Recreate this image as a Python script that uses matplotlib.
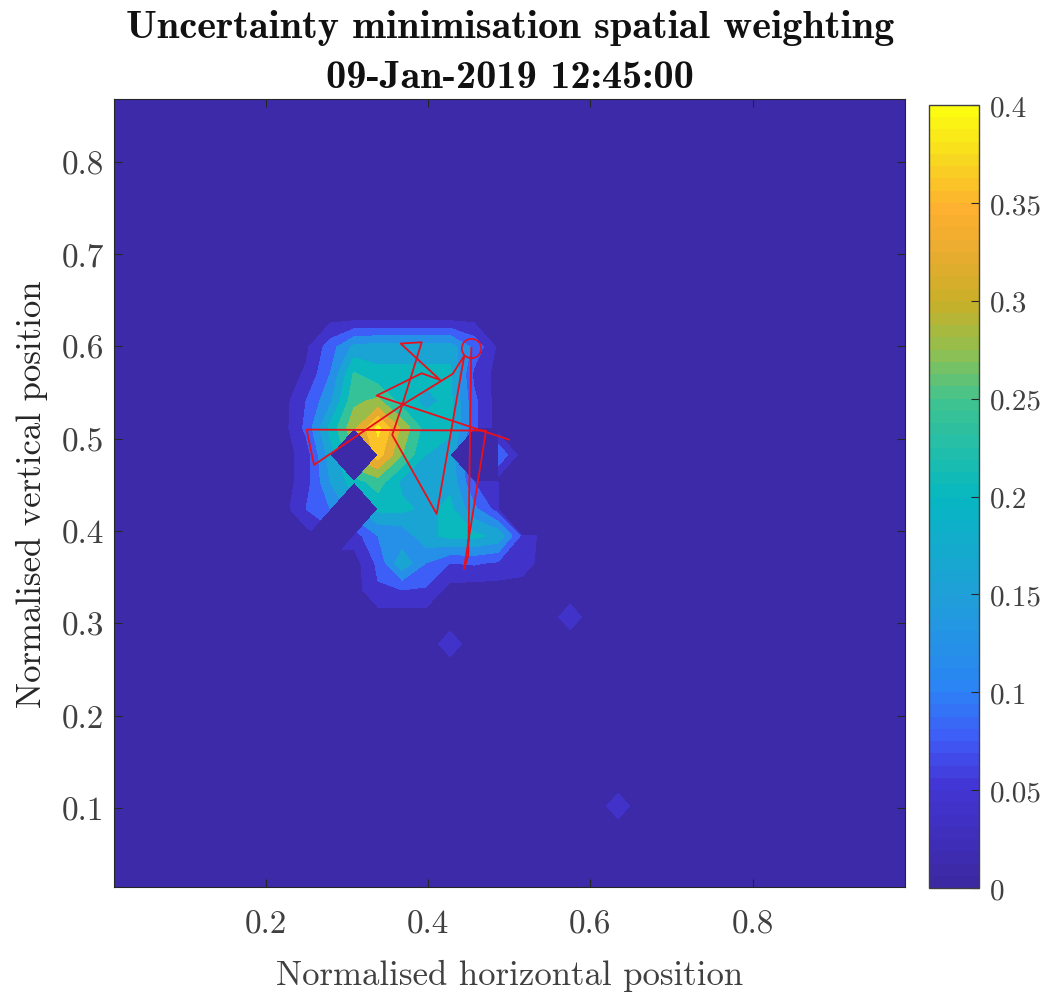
import numpy as np
import matplotlib
matplotlib.use("Agg")
import matplotlib.pyplot as plt
from matplotlib.colors import LinearSegmentedColormap, Normalize
from matplotlib.cm import ScalarMappable

# weights, columns are grid nodes 7..18, nan = no data
first_col = 7
rows = {
    21: [0, 0, .012, .016, .016, .016, .016, .016, .012, 0, 0, 0],
    20: [0, .012, .08, .15, .16, .16, .16, .16, .09, .012, 0, 0],
    19: [0, .025, .1, .225, .19, .19, .19, .19, .05, .005, 0, 0],
    18: [0, .06, .13, .25, .27, .2, .17, .19, .07, 0, 0, 0],
    17: [0, .07, .19, .29, .39, .29, .2, .19, .07, 0, 0, 0],
    16: [0, .037, .16, np.nan, .36, .26, .18, .16, np.nan, np.nan, 0, 0],
    15: [0, .04, .14, .2, .24, .17, .16, .17, .06, .03, np.nan, 0],
    14: [0, .06, .1, np.nan, .19, .19, .17, .19, .11, .04, np.nan, np.nan],
    13: [0, 0, np.nan, .04, .1, .11, .17, .19, .19, .17, .05, 0],
    12: [0, 0, 0, 0, .07, .17, .1, .06, .065, .055, .04, 0],
    11: [0, 0, 0, 0, .055, .06, .055, .005, 0, 0, 0, 0],
}
# small isolated spots (col, row, value)
spots = [(14, 9, .038), (19, 10, .038), (21, 3, .038)]
# the one next to the right hole, only its right half shows
side_z = [[0, 0], [.1, 0], [0, 0]]
side_cols = [16, 17]
side_rows = [15, 16, 17]

path_x = [.4532, .4495, .4441, .4713, .2502, .2592, .3681, .4302, .4445, .4105,
          .3557, .3681, .3920, .3661, .4146, .3920, .3365, .4996]
path_y = [.5984, .3734, .3589, .5088, .5099, .4716, .5366, .5702, .5900, .4185,
          .5041, .5366, .6045, .6031, .5637, .5709, .5467, .4990]

xticks = [.2, .4, .6, .8]
yticks = [.1, .2, .3, .4, .5, .6, .7, .8]
cticks = [0, .05, .1, .15, .2, .25, .3, .35, .4]
ctick_labels = ["0", "0.05", "0.1", "0.15", "0.2", "0.25", "0.3", "0.35", "0.4"]

levels = [0, .02, .06, .1, .14, .18, .22, .26, .3, .34, .38, .4]
cmap_at = [0, .05, .075, .1, .15, .2, .25, .275, .3, .325, .35, .375, .4]
cmap_col = ["#3b28a3", "#4335d5", "#3f5cf8", "#2b84f5", "#1fa0d8", "#05b8c0", "#40c490",
            "#90c050", "#c8b028", "#e8ac30", "#ffb030", "#f8d820", "#fcfc10"]
cmap = LinearSegmentedColormap.from_list("parula", [(v / .4, c) for v, c in zip(cmap_at, cmap_col)], N=64)
norm = Normalize(0, .4)

# grid
x = .0126 + .0296 * np.arange(34)
y = .0144 + .02925 * np.arange(30)
z = np.zeros((len(y), len(x)))
for j, vals in rows.items():
    z[j, first_col:first_col + len(vals)] = vals
for i, j, v in spots:
    z[j, i] = v
z = np.ma.masked_invalid(z)

W, H = 1047, 995
fig = plt.figure(figsize=(W / 100, H / 100), dpi=100)
ax = fig.add_axes([114 / W, 1 - 888 / H, 791 / W, 788 / H])
ax.set_facecolor(cmap(norm(.01)))
ax.contourf(x, y, z, levels=levels, cmap=cmap, norm=norm)
ax.contourf(x[side_cols], y[side_rows], side_z, levels=levels, cmap=cmap, norm=norm)
ax.plot(path_x, path_y, color="#e8101c", lw=1.3)
ax.plot(path_x[0], path_y[0], "o", mfc="none", mec="#e8101c", ms=14, mew=1.2)
ax.set_xlim(.0126, .988)
ax.set_ylim(.0144, .868)

font = {"family": "cmr10", "size": 24}
cb_font = {"family": "cmr10", "size": 21}
label_font = {"family": "cmr10", "size": 25}
ax.set_xticks(xticks)
ax.set_yticks(yticks)
ax.set_xticklabels([str(t) for t in xticks], **font, color="#404040")
ax.set_yticklabels([str(t) for t in yticks], **font, color="#404040")
ax.tick_params(direction="in", length=5.5, width=.8, top=True, right=True, color="#262626")
ax.tick_params(axis="x", pad=16)
ax.tick_params(axis="y", pad=7)
for s in ax.spines.values():
    s.set_color("#262626")
    s.set_linewidth(.8)
ax.set_xlabel("Normalised horizontal position", fontdict=label_font, color="#404040", labelpad=15)
ax.set_ylabel("Normalised vertical position", fontdict=label_font, color="#262626", labelpad=10)

fig.text(510 / W, 1 - 28 / H, "Uncertainty minimisation spatial weighting", family="cmb10",
         size=29, ha="center", va="center", color="#111111")
fig.text(510 / W, 1 - 78 / H, "09-Jan-2019 12:45:00", family="cmb10",
         size=29, ha="center", va="center", color="#111111")

cax = fig.add_axes([929 / W, 1 - 889 / H, 50 / W, 783 / H])
cb = fig.colorbar(ScalarMappable(norm=norm, cmap=cmap), cax=cax)
cb.set_ticks(cticks)
cb.set_ticklabels(ctick_labels, **cb_font, color="#404040")
cb.ax.tick_params(direction="in", length=5.5, width=.8, color="#262626", pad=8)
cb.outline.set_edgecolor("#404040")
cb.outline.set_linewidth(1)

fig.savefig("out.png", dpi=100)
